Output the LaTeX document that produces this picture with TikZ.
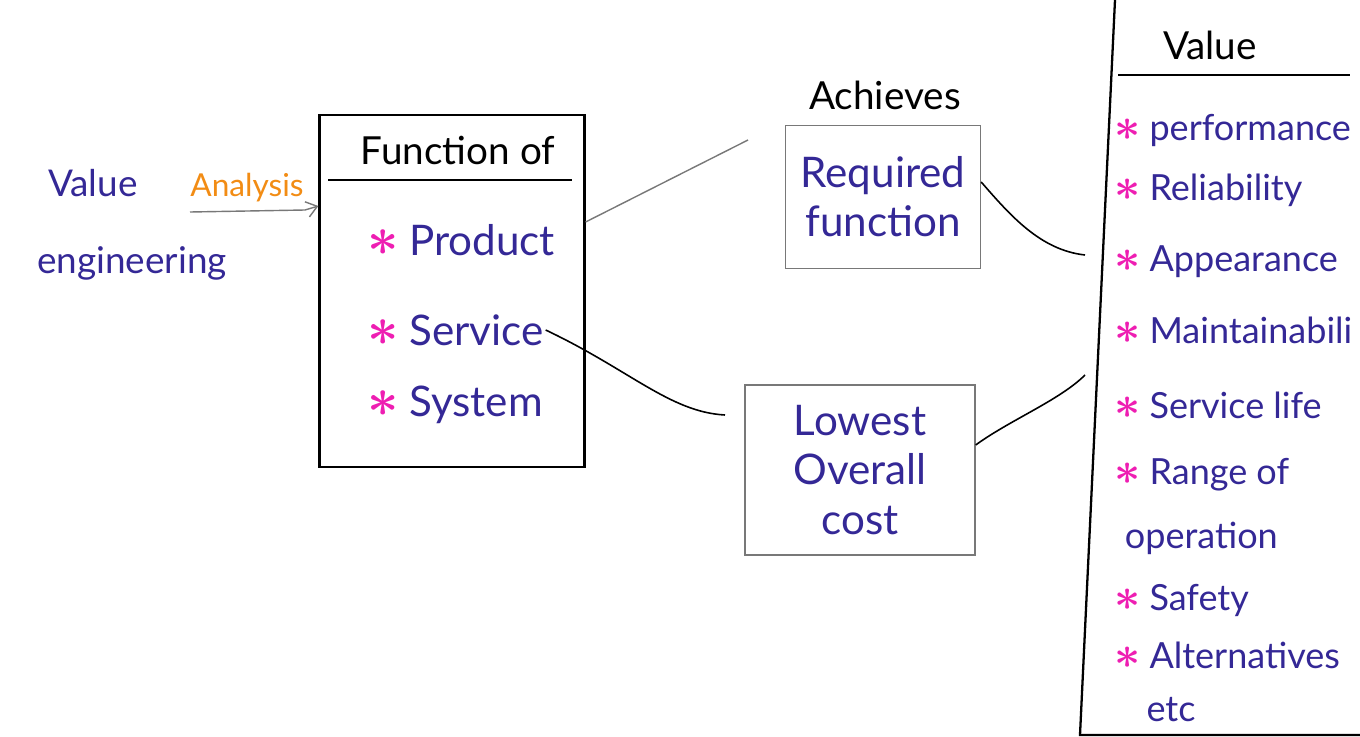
\documentclass[tikz,border=0pt]{standalone}
\usepackage{amsmath,amssymb,bm}
\usepackage{fontspec}
\setmainfont{Lato}
\usetikzlibrary{positioning,arrows.meta}
\definecolor{ink}{RGB}{52,40,150}
\definecolor{star}{RGB}{238,30,178}
\definecolor{orng}{RGB}{242,140,20}
\definecolor{pencil}{RGB}{120,120,120}
\newcommand{\bul}{\textcolor{star}{\scalebox{1.25}{$\boldsymbol{\ast}$}}\ }
\tikzset{
  hand/.style={text=ink, font=\fontsize{24}{28}\selectfont, inner sep=1pt},
  blk/.style={text=black, font=\fontsize{22}{26}\selectfont, inner sep=1pt},
  vitem/.style={hand, font=\fontsize{20.5}{24}\selectfont, anchor=west},
  fnbox/.style={rectangle, draw=black, line width=1.3pt, minimum width=5.3cm, minimum height=7.04cm},
  thinbox/.style={rectangle, draw=pencil, line width=0.8pt, hand, align=center},
  boxline/.style={draw=black, line width=1.3pt},
  pline/.style={draw=pencil, line width=0.8pt},
  curve/.style={draw=black, line width=0.9pt}
}
\begin{document}
\begin{tikzpicture}[x=0.02cm, y=-0.02cm]
  \useasboundingbox (0,0) rectangle (1360,737);
  % left side
  \node[hand, font=\fontsize{21}{25}\selectfont, align=left, anchor=west] (ve) at (35,225) {\hspace{0.3em}Value\\[0.9em]engineering};
  \node[hand, text=orng, font=\fontsize{18}{21}\selectfont] (an) at (247,188) {Analysis};
  \coordinate (ul) at (190,212);
  % function box
  \node[fnbox] (fn) at (452,291) {};
  \node[blk] (fnhead) at (458,150) {Function of};
  \draw[boxline] (328,180) -- (572,180);
  \node[hand, anchor=west] (prod) at (365,240) {\bul Product};
  \node[hand, anchor=west] (serv) at (365,330) {\bul Service};
  \node[hand, anchor=west] (syst) at (365,405) {\bul System};
  \draw[pline, -{Straight Barb[length=6pt, width=9pt]}] (ul) -- (305,210) -- (fn.west |- 0,206);
  % middle
  \node[blk] (ach) at (885,95) {Achieves};
  \node[thinbox, minimum width=3.9cm, minimum height=2.86cm] (req) at (883,197) {Required\\function};
  \node[thinbox, minimum width=4.6cm, minimum height=3.4cm] (low) at (860,470) {Lowest\\Overall\\cost};
  \coordinate (achv) at (748,140);
  \coordinate (lw1) at (725,415);
  \coordinate (v1) at (1085,255);
  \coordinate (v2) at (1085,375);
  \draw[pline] (fn.east |- 0,222) -- (achv);
  \draw[curve] (serv.east) .. controls (630,370) and (670,412) .. (lw1);
  \draw[curve] (req.east |- 0,182) .. controls (1010,215) and (1040,250) .. (v1);
  \draw[curve] (low.east |- 0,445) .. controls (1010,420) and (1060,400) .. (v2);
  % value column
  \draw[boxline] (1115,0) -- (1080,735) -- (1360,735);
  \node[blk] (vhead) at (1210,45) {Value};
  \draw[boxline] (1118,75) -- (1350,75);
  \foreach \y/\t [count=\i] in {130/\bul performance, 190/\bul Reliability, 262/\bul Appearance,
      330/\bul Maintainabili, 405/\bul Service life, 475/\bul Range of, 538/\hspace{0.3em}operation,
      600/\bul Safety, 655/\bul Alternatives, 710/\hspace{0.9em}etc}
    \node[vitem] (val\i) at (1112,\y) {\t};
\end{tikzpicture}
\end{document}
